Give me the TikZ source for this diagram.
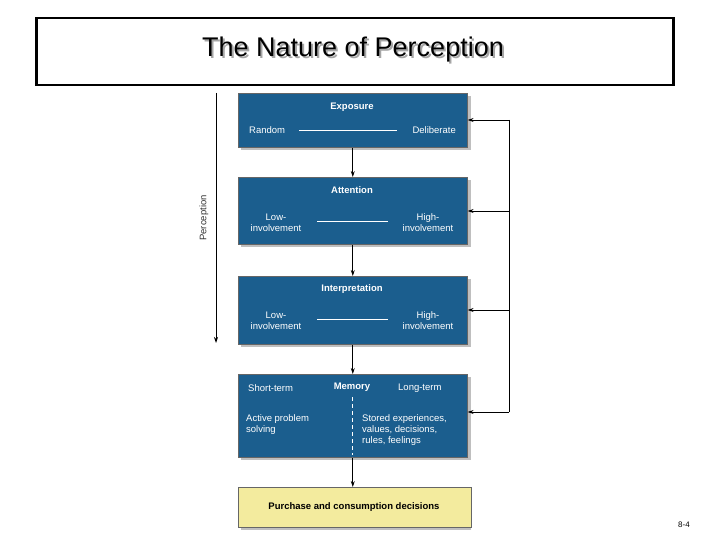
\documentclass[tikz,border=0pt]{standalone}
\usepackage{fontspec}
\setmainfont{Liberation Sans}
\usetikzlibrary{arrows.meta}
\definecolor{bx}{HTML}{1B5E8E}
\definecolor{yl}{HTML}{F3EB9E}
\begin{document}
\begin{tikzpicture}[x=1pt,y=-1pt,
 blk/.style={draw=black!60,fill=bx,line width=0.6pt},
 wt/.style={text=white,font=\fontsize{9.5}{11}\selectfont,inner sep=0},
 wb/.style={wt,font=\fontsize{9.5}{11}\selectfont\bfseries},
 shd/.style={fill=black!25},
 arr/.style={-{Stealth[length=6pt,width=4pt]},line width=0.8pt}]
\useasboundingbox (0,0) rectangle (720,540);
\node[draw,line width=2.5pt,minimum width=637pt,minimum height=67pt,anchor=north west] (title) at (35,17) {};
\node[font=\fontsize{27}{30}\selectfont] (tt) at (353,50.5) {\makebox[0pt][l]{\hspace{2pt}\raisebox{-2pt}{\color{black!35}The Nature of Perception}}The Nature of Perception};
% shadows
\foreach \a/\b in {93/147,177/244,276/344,374/457,487/527}{
 \fill[shd] (241,\a+3) rectangle (471,\b+3);}
\node[blk,minimum width=229pt,minimum height=54pt,anchor=north west] (exp) at (238,93) {};
\node[blk,minimum width=229pt,minimum height=67pt,anchor=north west] (att) at (238,177) {};
\node[blk,minimum width=229pt,minimum height=68pt,anchor=north west] (int) at (238,276) {};
\node[blk,minimum width=229pt,minimum height=83pt,anchor=north west] (mem) at (238,374) {};
\node[draw=black!60,fill=yl,line width=0.6pt,minimum width=233pt,minimum height=40pt,anchor=north west] (pur) at (238,487) {};
\node[font=\fontsize{9.5}{11}\selectfont\bfseries] at (354,507) {Purchase and consumption decisions};
% exposure
\node[wb] at (352,107) {Exposure};
\node[wt,anchor=west] at (249,130) {Random};
\node[wt,anchor=east] at (456,130) {Deliberate};
\draw[white,line width=0.5pt] (299,130) -- (397,130);
% attention
\node[wb] at (352,190) {Attention};
\node[wt,align=center] at (276,223) {Low-\\involvement};
\node[wt,align=center] at (428,223) {High-\\involvement};
\draw[white,line width=0.5pt] (317,221) -- (388,221);
% interpretation
\node[wb] at (352,289) {Interpretation};
\node[wt,align=center] at (276,321) {Low-\\involvement};
\node[wt,align=center] at (428,321) {High-\\involvement};
\draw[white,line width=0.5pt] (317,319) -- (388,319);
% memory
\node[wb] at (352,387) {Memory};
\node[wt,anchor=west] at (248,388) {Short-term};
\node[wt,anchor=west] at (398,388) {Long-term};
\node[wt,align=left,anchor=north west] at (246,414) {Active problem\\solving};
\node[wt,align=left,anchor=north west] at (362,414) {Stored experiences,\\values, decisions,\\rules, feelings};
\draw[white,line width=0.6pt,dash pattern=on 4pt off 3pt] (352,397) -- (352,455);
% flow arrows
\draw[arr] (exp.south) -- (att.north);
\draw[arr] (att.south) -- (int.north);
\draw[arr] (int.south) -- (mem.north);
\draw[arr] (mem.south) -- (mem.south|-pur.north);
% feedback
\coordinate (f1) at (509,120);
\coordinate (f4) at (509,412);
\draw[line width=0.9pt] (f1) -- (f4);
\draw[arr] (f1) -- (exp.east|-f1);
\draw[arr] (509,211) -- (att.east|-0,211);
\draw[arr] (509,310) -- (int.east|-0,310);
\draw[arr] (f4) -- (mem.east|-f4);
% perception
\coordinate (p1) at (216,93);
\coordinate (p2) at (216,343);
\draw[arr] (p1) -- (p2);
\node[rotate=90,font=\fontsize{9.5}{11}\selectfont,text=black!80] (perc) at (204,218) {Perception};
\node[font=\fontsize{8}{10}\selectfont] (pg) at (684,525) {8-4};
\end{tikzpicture}
\end{document}
